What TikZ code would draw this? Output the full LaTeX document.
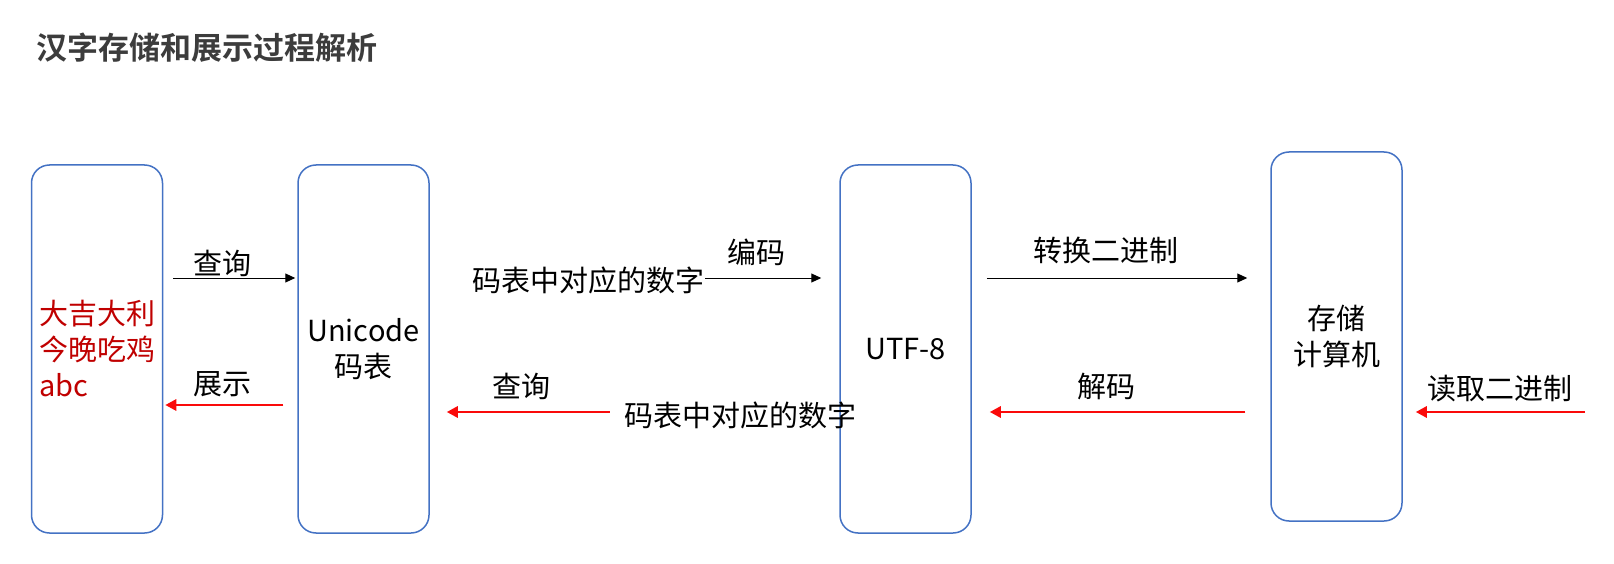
\documentclass[tikz,border=0pt]{standalone}
\usepackage{fontspec}
\setmainfont{Noto Sans CJK SC}[BoldFont={Noto Sans CJK SC Bold}]
\usepackage{xcolor}
\usetikzlibrary{arrows.meta,positioning,calc}
\definecolor{boxblue}{RGB}{68,114,196}
\definecolor{textred}{RGB}{192,0,0}
\definecolor{arrowred}{RGB}{250,10,10}
\definecolor{titlegray}{RGB}{60,60,60}
\tikzset{
  stagebox/.style={rectangle, rounded corners=18pt, draw=boxblue, line width=1.5pt, minimum width=131pt, minimum height=368pt, align=center, font=\fontsize{29}{36}\selectfont},
  lbl/.style={inner sep=0pt, font=\fontsize{29}{34}\selectfont},
  fwdarrow/.style={-{Triangle[length=10pt,width=9pt]}, line width=1pt, black},
  retarrow/.style={-{Triangle[length=11pt,width=11pt]}, line width=2.8pt, arrowred}
}

\begin{document}
\begin{tikzpicture}[x=1pt,y=-1pt]
  \path[use as bounding box, fill=white] (0,0) rectangle (1614,564);

  % title
  \node[anchor=west, inner sep=0pt, text=titlegray, font=\bfseries\fontsize{31}{36}\selectfont] (title) at (36,48) {汉字存储和展示过程解析};

  % the four stages
  \node[stagebox, align=left, text=textred] (src) at (97,349) {大吉大利\\今晚吃鸡\\abc};
  \node[stagebox] (uni) at (363.5,349) {Unicode\\码表};
  \node[stagebox] (utf) at (905.5,349) {UTF-8};
  \node[stagebox, minimum height=369pt] (disk) at (1336.5,336.5) {存储\\计算机};

  % arrow rows
  \coordinate (upper) at (0,278);
  \coordinate (lowhi) at (0,405);
  \coordinate (lower) at (0,412);
  \coordinate (feed) at (1585,412);

  % labels
  \node[lbl] (qry1) at (222,263) {查询};
  \node[lbl] (show) at (222,384) {展示};
  \node[lbl, anchor=east] (num1) at (705,280) {码表中对应的数字};
  \node[lbl] (enc) at (756,252) {编码};
  \node[lbl] (qry2) at (521,386) {查询};
  \node[lbl] (num2) at (740,415) {码表中对应的数字};
  \node[lbl] (tobin) at (1106,250) {转换二进制};
  \node[lbl] (dec) at (1106,387) {解码};
  \node[lbl] (rdbin) at (1500,389) {读取二进制};

  % storing
  \draw[fwdarrow] ($(src.east |- upper)+(10,0)$) -- ($(uni.west |- upper)+(-2,0)$);
  \draw[fwdarrow] (num1.east |- upper) -- ($(utf.west |- upper)+(-18,0)$);
  \draw[fwdarrow] ($(utf.east |- upper)+(15,0)$) -- ($(disk.west |- upper)+(-23,0)$);

  % showing
  \draw[retarrow] (feed) -- ($(disk.east |- lower)+(13,0)$);
  \draw[retarrow] ($(disk.west |- lower)+(-25,0)$) -- ($(utf.east |- lower)+(18,0)$);
  \draw[retarrow] ($(num2.west |- lower)+(-14,0)$) -- ($(uni.east |- lower)+(17,0)$);
  \draw[retarrow] ($(uni.west |- lowhi)+(-14,0)$) -- ($(src.east |- lowhi)+(2,0)$);
\end{tikzpicture}
\end{document}
